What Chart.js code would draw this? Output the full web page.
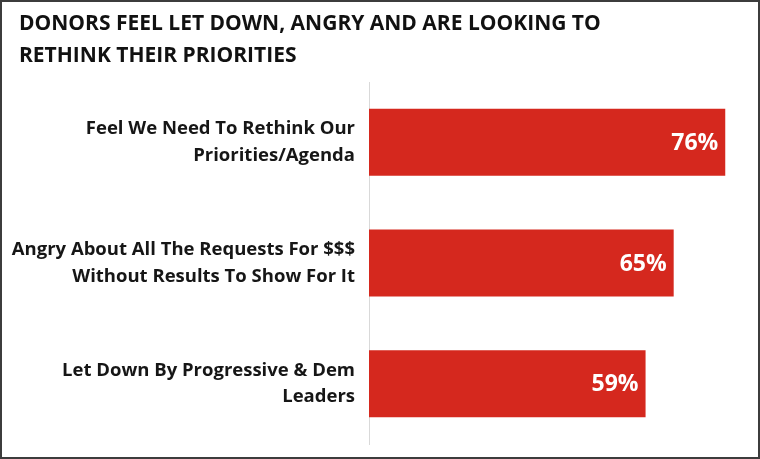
<!DOCTYPE html>
<html>
<head>
<meta charset="utf-8">
<script src="https://cdn.jsdelivr.net/npm/chart.js@4.4.1/dist/chart.umd.min.js"></script>
<style>
  html, body { margin: 0; padding: 0; background: #ffffff; }
  #wrap { width: 760px; height: 459px; position: relative; }
</style>
</head>
<body>
<div id="wrap"><canvas id="c" width="760" height="459"></canvas></div>
<script>
const titleLines = ["DONORS FEEL LET DOWN, ANGRY AND ARE LOOKING TO", "RETHINK THEIR PRIORITIES"];
const categories = [
  ["Feel We Need To Rethink Our", "Priorities/Agenda"],
  ["Angry About All The Requests For $$$", "Without Results To Show For It"],
  ["Let Down By Progressive & Dem", "Leaders"]
];
const values = [76, 65, 59];
const valueLabels = ["76%", "65%", "59%"];

const FONT = "'Open Sans', 'Liberation Sans', sans-serif";

const headline = {
  id: 'headline',
  afterDraw(chart) {
    const ctx = chart.ctx;
    ctx.save();
    ctx.fillStyle = '#111111';
    ctx.font = 'bold 21px ' + FONT;
    ctx.textAlign = 'left';
    ctx.textBaseline = 'middle';
    titleLines.forEach((line, i) => ctx.fillText(line, 19, 24 + i * 32));
    ctx.restore();
  }
};

const barLabels = {
  id: 'barLabels',
  afterDatasetsDraw(chart) {
    const ctx = chart.ctx;
    const meta = chart.getDatasetMeta(0);
    ctx.save();
    ctx.fillStyle = '#ffffff';
    ctx.font = 'bold 23px ' + FONT;
    ctx.textAlign = 'right';
    ctx.textBaseline = 'middle';
    meta.data.forEach((bar, i) => {
      ctx.fillText(valueLabels[i], bar.x - 7, bar.y + 1);
    });
    ctx.restore();
  }
};

const frame = {
  id: 'frame',
  afterDraw(chart) {
    const ctx = chart.ctx;
    ctx.save();
    ctx.strokeStyle = '#3c3c3c';
    ctx.lineWidth = 2;
    ctx.strokeRect(1, 1, chart.width - 2, chart.height - 2);
    ctx.restore();
  }
};

function draw() {
  new Chart(document.getElementById('c'), {
    type: 'bar',
    data: {
      labels: categories,
      datasets: [{
        data: values,
        backgroundColor: '#d5281e',
        borderWidth: 0,
        categoryPercentage: 1,
        barPercentage: 0.555
      }]
    },
    options: {
      indexAxis: 'y',
      responsive: false,
      animation: false,
      layout: { padding: { top: 82, left: 4, right: 16, bottom: 15 } },
      plugins: {
        legend: { display: false },
        tooltip: { enabled: false },
        title: { display: false }
      },
      scales: {
        x: {
          display: false,
          min: 0,
          max: 80
        },
        y: {
          afterFit(scale) {
            scale.width = 365;
            scale.paddingTop = 0;
            scale.paddingBottom = 0;
          },
          grid: { display: false, drawTicks: false },
          border: { display: true, color: '#d9d9d9', width: 1 },
          ticks: {
            color: '#161616',
            padding: 14,
            font: { family: FONT, size: 18.5, weight: 'bold', lineHeight: 1.45 }
          }
        }
      }
    },
    plugins: [headline, barLabels, frame]
  });
}

Promise.all([
  document.fonts.load("bold 21px 'Open Sans'"),
  document.fonts.load("bold 18px 'Open Sans'")
]).then(draw, draw);
</script>
</body>
</html>
